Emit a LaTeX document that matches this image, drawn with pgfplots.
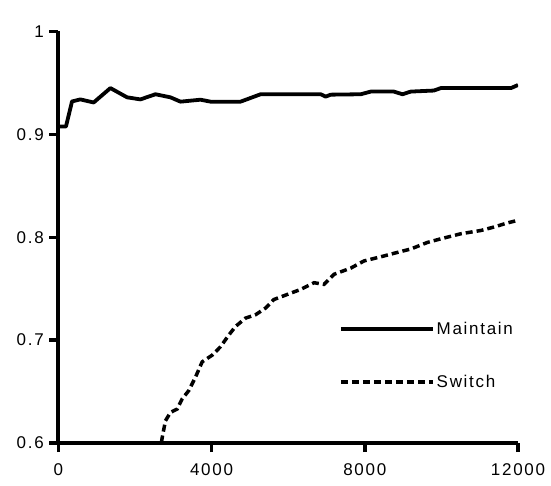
\documentclass[border=0pt]{standalone}
\usepackage{pgfplots}
\pgfplotsset{compat=1.18}
\usepackage{fontspec}
\setmainfont[LetterSpace=10]{Liberation Sans}
\begin{document}
\begin{tikzpicture}
\begin{axis}[name=ax, scale only axis, width=459.7pt, height=411.5pt,
 xmin=0, xmax=12000, ymin=0.6, ymax=1,
 axis x line=bottom, axis y line=left,
 axis line style={line width=4pt, -},
 xtick={0,4000,8000,12000}, ytick={0.6,0.7,0.8,0.9,1},
 xticklabels={0,4000,8000,12000}, yticklabels={0.6,0.7,0.8,0.9,1},
 scaled x ticks=false, scaled y ticks=false,
 tick align=outside, major tick length=9pt,
 tick style={line width=3.5pt, black},
 /pgf/number format/assume math mode=true,
 ticklabel style={font=\fontsize{17}{20}\selectfont},
 xticklabel style={yshift=-8pt},
 yticklabel style={xshift=-2pt},
 clip=true,
 legend style={at={(rel axis cs:0.61,0.212)}, anchor=west, draw=none, fill=none,
   font=\fontsize{17}{20}\selectfont, row sep=35pt, inner sep=0pt,
   cells={anchor=west}},
 legend image code/.code={\draw[#1] (0pt,0pt) -- (92pt,0pt);},
]
\addplot[black, line width=3.8pt, line join=round] coordinates {
(0,0.9076) (200,0.9076) (358,0.932) (575,0.934) (923,0.931) (1360,0.945)
(1796,0.936) (2144,0.934) (2536,0.939) (2928,0.936) (3190,0.9318)
(3712,0.9337) (3974,0.9318) (4758,0.9318) (5281,0.939) (6850,0.939)
(6980,0.9367) (7111,0.9386) (7895,0.939) (8157,0.9416) (8758,0.9416)
(8985,0.939) (9202,0.9416) (9804,0.9426) (9987,0.945) (11817,0.945)
(12000,0.948)
};
\addlegendentry{Maintain}
\addplot[black, line width=3.5pt, dash pattern=on 7pt off 4pt] coordinates {
(2650,0.59) (2711,0.605) (2797,0.6216) (2928,0.6297) (3103,0.633)
(3233,0.6428) (3407,0.651) (3582,0.6641) (3756,0.6789) (4018,0.6854)
(4235,0.6936) (4452,0.705) (4627,0.7133) (4889,0.7214) (5150,0.7247)
(5412,0.7312) (5629,0.7395) (5978,0.7444) (6327,0.7493) (6675,0.7558)
(6937,0.7542) (7198,0.764) (7634,0.77) (7982,0.777) (8418,0.781)
(8855,0.7853) (9203,0.7886) (9639,0.795) (9987,0.7985) (10510,0.8034)
(11033,0.8066) (11381,0.81) (11730,0.814) (12000,0.8165)
};
\addlegendentry{Switch}
\end{axis}
\pgfresetboundingbox
\path[use as bounding box] ([xshift=-58.3pt,yshift=-42pt]ax.south west) rectangle ([xshift=33pt,yshift=31.5pt]ax.north east);
\end{tikzpicture}
\end{document}
